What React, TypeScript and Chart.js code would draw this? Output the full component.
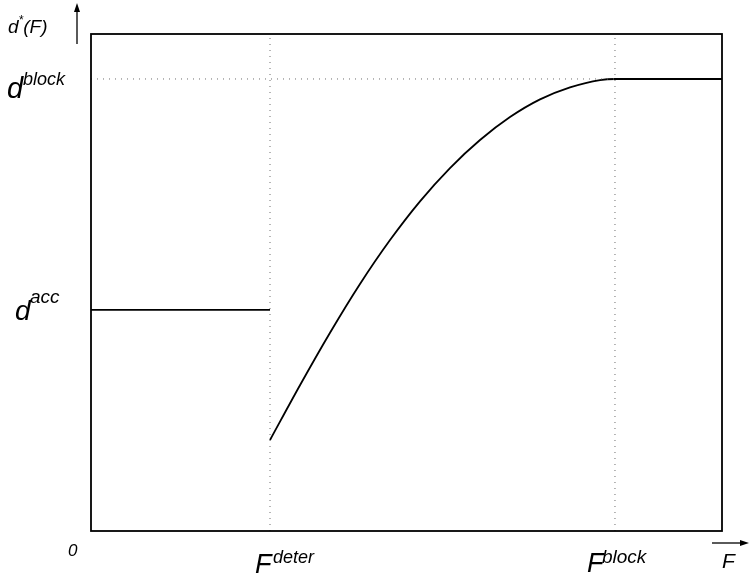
import React, { useEffect, useRef } from "react";
import { Chart, registerables } from "chart.js";

Chart.register(...registerables);

// Abstract units: x 0..100 (F), y 0..100 (d*)
const xMin = 0;
const xMax = 100;
const yMin = 0;
const yMax = 100;

const fDeter = 28.37;
const fBlock = 83.04;
const dBlock = 90.95;
const dAcc = 44.5;

// constant acceptance segment
const accX = [0, fDeter];
const accY = [dAcc, dAcc];

// rising curve then plateau
const curveX = [28.37, 33.12, 37.88, 42.63, 47.39, 52.14, 56.89, 61.65, 66.4, 71.16, 75.91, 80.67, 83.04, 100];
const curveY = [18.31, 29.33, 39.89, 49.7, 58.54, 66.33, 73.03, 78.67, 83.29, 86.85, 89.26, 90.74, 90.95, 90.95];

const FONT = "'Liberation Sans', Arial, sans-serif";

const labelsPlugin = {
  id: "labelsPlugin",
  afterDraw(chart: any) {
    const { ctx, chartArea, scales } = chart;
    const xs = scales.x;
    const ys = scales.y;
    ctx.save();
    // box
    ctx.strokeStyle = "#000";
    ctx.lineWidth = 1.8;
    ctx.strokeRect(chartArea.left, chartArea.top, chartArea.right - chartArea.left, chartArea.bottom - chartArea.top);

    // vertical axis arrow
    const ax = chartArea.left - 14;
    ctx.beginPath();
    ctx.lineWidth = 1.3;
    ctx.moveTo(ax, chartArea.top + 10);
    ctx.lineTo(ax, 10);
    ctx.stroke();
    ctx.beginPath();
    ctx.fillStyle = "#000";
    ctx.moveTo(ax, 3);
    ctx.lineTo(ax - 3, 12);
    ctx.lineTo(ax + 3, 12);
    ctx.closePath();
    ctx.fill();

    // horizontal axis arrow
    const ay = chartArea.bottom + 12;
    ctx.beginPath();
    ctx.moveTo(chartArea.right - 10, ay);
    ctx.lineTo(741, ay);
    ctx.stroke();
    ctx.beginPath();
    ctx.moveTo(749, ay);
    ctx.lineTo(740, ay - 3);
    ctx.lineTo(740, ay + 3);
    ctx.closePath();
    ctx.fill();

    ctx.fillStyle = "#000";
    ctx.textAlign = "left";
    ctx.textBaseline = "alphabetic";
    const txt = (s: string, size: number, x: number, y: number) => {
      ctx.font = `italic ${size}px ${FONT}`;
      ctx.fillText(s, x, y);
      return ctx.measureText(s).width;
    };

    // y axis title d*(F)
    const w = txt("d", 19, 8, 33);
    const w2 = txt("*", 12, 8 + w, 24);
    txt("(F)", 19, 8 + w + w2, 33);

    // d^block
    const yb = ys.getPixelForValue(dBlock);
    txt("d", 29, 7, yb + 19);
    txt("block", 18, 23, yb + 6);

    // d^acc
    const ya = ys.getPixelForValue(dAcc);
    txt("d", 28, 15, ya + 10);
    txt("acc", 19, 30, ya - 7);

    // 0
    txt("0", 17, chartArea.left - 23, chartArea.bottom + 25);

    // F^deter
    const xd = xs.getPixelForValue(fDeter);
    txt("F", 27, xd - 15, chartArea.bottom + 42);
    txt("deter", 18, xd + 3, chartArea.bottom + 32);

    // F^block
    const xb = xs.getPixelForValue(fBlock);
    txt("F", 27, xb - 28, chartArea.bottom + 41);
    txt("block", 19, xb - 13, chartArea.bottom + 32);

    // F axis label
    txt("F", 21, chartArea.right, chartArea.bottom + 37);

    ctx.restore();
  },
};

export default function App() {
  const ref = useRef<HTMLCanvasElement | null>(null);
  useEffect(() => {
    if (!ref.current) return;
    const dot = "#6e6e6e";
    const chart = new Chart(ref.current, {
      type: "line",
      data: {
        datasets: [
          {
            data: [
              { x: fDeter, y: yMin },
              { x: fDeter, y: yMax },
            ],
            borderColor: dot,
            borderWidth: 1,
            borderDash: [1, 5],
            pointRadius: 0,
          },
          {
            data: [
              { x: fBlock, y: yMin },
              { x: fBlock, y: yMax },
            ],
            borderColor: dot,
            borderWidth: 1,
            borderDash: [1, 5],
            pointRadius: 0,
          },
          {
            data: [
              { x: xMin, y: dBlock },
              { x: fBlock, y: dBlock },
            ],
            borderColor: dot,
            borderWidth: 1,
            borderDash: [1, 5],
            pointRadius: 0,
          },
          {
            data: accX.map((x, i) => ({ x, y: accY[i] })),
            borderColor: "#000",
            borderWidth: 1.8,
            pointRadius: 0,
          },
          {
            data: curveX.map((x, i) => ({ x, y: curveY[i] })),
            borderColor: "#000",
            borderWidth: 1.8,
            pointRadius: 0,
            cubicInterpolationMode: "monotone",
          },
        ],
      },
      options: {
        animation: false,
        responsive: false,
        maintainAspectRatio: false,
        layout: { padding: { left: 91, top: 34, right: 28, bottom: 46 } },
        plugins: { legend: { display: false }, tooltip: { enabled: false } },
        scales: {
          x: { type: "linear", min: xMin, max: xMax, display: false },
          y: { type: "linear", min: yMin, max: yMax, display: false },
        },
      },
      plugins: [labelsPlugin],
    } as any);
    return () => chart.destroy();
  }, []);
  return (
    <div style={{ position: "absolute", left: 0, top: 0, width: 750, height: 577, background: "#fff" }}>
      <canvas ref={ref} width={750} height={577} style={{ width: 750, height: 577 }} />
    </div>
  );
}
